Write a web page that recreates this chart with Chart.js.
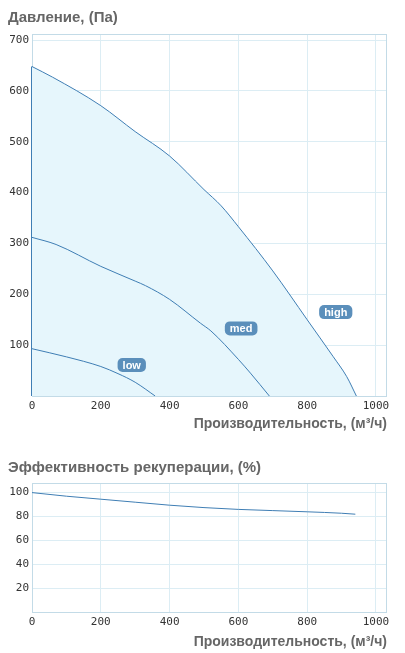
<!DOCTYPE html>
<html>
<head>
<meta charset="utf-8">
<script src="https://cdn.jsdelivr.net/npm/chart.js@4"></script>
<style>
  body { margin: 0; background: #fff; }
  #top { position: absolute; left: 0; top: 0; width: 405px; height: 440px; }
  #bottom { position: absolute; left: 0; top: 440px; width: 405px; height: 213px; }
</style>
</head>
<body>
<div id="top"><canvas id="pressureChart"></canvas></div>
<div id="bottom"><canvas id="effChart"></canvas></div>
<script>
// pressure curves, flow in m3/h
var highFlow = [0, 60, 200, 300, 400, 500, 550, 600, 700, 800, 875, 915, 943];
var highPress = [648, 627, 571, 520, 472, 406, 374, 333, 246, 150, 78, 38, 0];
var medFlow = [0, 70, 200, 300, 330, 400, 490, 520, 600, 635, 690];
var medPress = [312, 298, 255, 226, 217, 190, 143, 128, 72, 45, 0];
var lowFlow = [0, 100, 200, 250, 300, 358];
var lowPress = [93, 77, 58, 44, 27, 0];

// labels of the speed modes
var modeNames = ['low', 'med', 'high'];
var modeFlow = [290, 608, 883];
var modePress = [61, 133, 165];

// heat recovery efficiency
var effFlow = [0, 100, 200, 300, 400, 500, 600, 700, 800, 900, 940];
var effValue = [99.5, 96.5, 94, 91.5, 89, 87, 85.5, 84.5, 83.5, 82.3, 81.5];

var flowTicks = [0, 200, 400, 600, 800, 1000];
var pressTicks = [0, 100, 200, 300, 400, 500, 600, 700];
var effTicks = [0, 20, 40, 60, 80, 100];

var lineColor = '#3f7eb4';
var gridColor = '#dcedf4';
var frameColor = '#c3dbe7';
var titleColor = '#666666';
var tickFont = { family: 'DejaVu Sans Mono', size: 11 };

function pts(xs, ys) {
  return xs.map(function (x, i) { return { x: x, y: ys[i] }; });
}

function useTicks(list) {
  return function (scale) {
    scale.ticks = list.map(function (v) { return { value: v }; });
  };
}

var framePlugin = {
  id: 'frame',
  beforeDatasetsDraw: function (chart) {
    var a = chart.chartArea, ctx = chart.ctx;
    ctx.save();
    ctx.strokeStyle = frameColor;
    ctx.lineWidth = 1;
    ctx.strokeRect(Math.round(a.left) + 0.5, Math.round(a.top) + 0.5,
      Math.round(a.right - a.left) - 1, Math.round(a.bottom - a.top));
    ctx.restore();
  }
};

var modeLabelPlugin = {
  id: 'modeLabels',
  afterDatasetsDraw: function (chart) {
    var ctx = chart.ctx, xs = chart.scales.x, ys = chart.scales.y;
    ctx.save();
    ctx.font = 'bold 11px "Liberation Sans"';
    ctx.textAlign = 'center';
    ctx.textBaseline = 'middle';
    modeNames.forEach(function (name, i) {
      var cx = xs.getPixelForValue(modeFlow[i]);
      var cy = ys.getPixelForValue(modePress[i]);
      var w = ctx.measureText(name).width + 10, h = 14;
      ctx.fillStyle = '#5b8fbb';
      ctx.beginPath();
      ctx.roundRect(cx - w / 2, cy - h / 2, w, h, 5);
      ctx.fill();
      ctx.fillStyle = '#ffffff';
      ctx.fillText(name, cx, cy + 0.5);
    });
    ctx.restore();
  }
};

function xAxis(height, titlePadBottom) {
  return {
    type: 'linear',
    min: 0,
    max: 1032,
    afterBuildTicks: useTicks(flowTicks),
    afterFit: function (s) { s.height = height; },
    grid: { color: gridColor, drawTicks: false },
    border: { display: false },
    ticks: {
      color: '#333', font: tickFont, padding: 4, maxRotation: 0,
      callback: function (v) { return String(v); }
    },
    title: {
      display: true,
      text: 'Производительность, (м³/ч)',
      align: 'end',
      color: titleColor,
      font: { family: 'Liberation Sans', size: 14, weight: 'bold' },
      padding: { top: 0, bottom: titlePadBottom }
    }
  };
}

function yAxis(max, list) {
  return {
    min: 0,
    max: max,
    afterBuildTicks: useTicks(list),
    afterFit: function (s) { s.width = 24; },
    grid: { color: gridColor, drawTicks: false },
    border: { display: false },
    ticks: {
      color: '#333', font: tickFont, padding: 3,
      callback: function (v) { return v === 0 ? '' : String(v); }
    }
  };
}

function series(xs, ys, fill) {
  return {
    data: pts(xs, ys),
    borderColor: lineColor,
    borderWidth: 1,
    backgroundColor: '#e6f6fc',
    fill: fill,
    pointRadius: 0,
    cubicInterpolationMode: 'monotone'
  };
}

// vertical left edge of the high curve area
var highEdge = series([highFlow[0], highFlow[0]], [0, highPress[0]], false);
highEdge.borderWidth = 2;
highEdge.cubicInterpolationMode = 'default';
highEdge.tension = 0;
highEdge.clip = false;

new Chart(document.getElementById('pressureChart'), {
  type: 'line',
  data: {
    datasets: [
      series(lowFlow, lowPress, false),
      series(medFlow, medPress, false),
      series(highFlow, highPress, 'origin'),
      highEdge
    ]
  },
  options: {
    responsive: true,
    maintainAspectRatio: false,
    animation: false,
    layout: { padding: { left: 8, right: 18, top: 0, bottom: 0 } },
    plugins: {
      legend: { display: false },
      tooltip: { enabled: false },
      title: {
        display: true,
        text: 'Давление, (Па)',
        align: 'start',
        color: titleColor,
        font: { family: 'Liberation Sans', size: 15, weight: 'bold' },
        padding: { top: 9, bottom: 7 }
      }
    },
    scales: {
      x: xAxis(44, 7),
      y: yAxis(712, pressTicks)
    }
  },
  plugins: [framePlugin, modeLabelPlugin]
});

new Chart(document.getElementById('effChart'), {
  type: 'line',
  data: {
    datasets: [series(effFlow, effValue, false)]
  },
  options: {
    responsive: true,
    maintainAspectRatio: false,
    animation: false,
    layout: { padding: { left: 8, right: 18, top: 0, bottom: 0 } },
    plugins: {
      legend: { display: false },
      tooltip: { enabled: false },
      title: {
        display: true,
        text: 'Эффективность рекуперации, (%)',
        align: 'start',
        color: titleColor,
        font: { family: 'Liberation Sans', size: 15, weight: 'bold' },
        padding: { top: 19, bottom: 6 }
      }
    },
    scales: {
      x: xAxis(41, 2),
      y: yAxis(107.5, effTicks)
    }
  },
  plugins: [framePlugin]
});
</script>
</body>
</html>
